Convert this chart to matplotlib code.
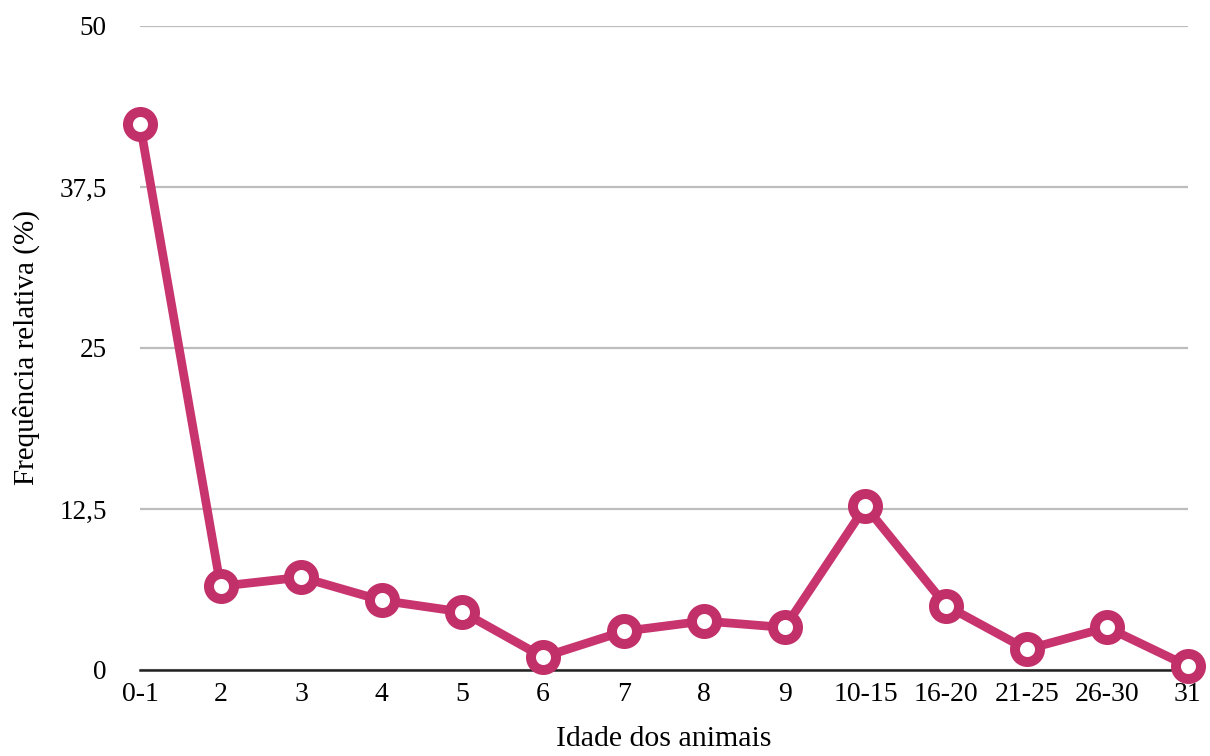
import matplotlib
matplotlib.use("Agg")
import matplotlib.pyplot as plt

# dados
idades = ['0-1', '2', '3', '4', '5', '6', '7', '8', '9', '10-15', '16-20', '21-25', '26-30', '31']
frequencia = [42.4, 6.5, 7.2, 5.4, 4.5, 1.0, 3.0, 3.8, 3.3, 12.7, 5.0, 1.6, 3.3, 0.3]
yticks = [0, 12.5, 25, 37.5, 50]
ytick_labels = ['0', '12,5', '25', '37,5', '50']

plt.rcParams['font.family'] = ['Liberation Serif', 'DejaVu Serif']

fig = plt.figure(figsize=(12.1, 7.56), dpi=100)
ax = fig.add_axes([0.1157, 0.1138, 0.866, 0.8519])

x = list(range(len(idades)))
ax.plot(x, frequencia, color='#C8346E', linewidth=6.3, marker='o', markersize=18,
        markerfacecolor='white', markeredgecolor='#C2306A', markeredgewidth=7.2,
        clip_on=False, zorder=5)

ax.set_xlim(0, len(idades) - 1)
ax.set_ylim(0, 50)
ax.set_yticks(yticks)
ax.set_yticklabels(ytick_labels)
ax.set_xticks(x)
ax.set_xticklabels(idades)
ax.tick_params(axis='both', length=0, labelsize=19.5)
ax.tick_params(axis='x', labelsize=20)
ax.tick_params(axis='y', pad=24)
ax.tick_params(axis='x', pad=9)

ax.grid(axis='y', color='#BDBDBD', linewidth=1.6)
ax.set_axisbelow(True)
for s in ['top', 'right', 'left']:
    ax.spines[s].set_visible(False)
ax.spines['bottom'].set_color('#222222')
ax.spines['bottom'].set_linewidth(1.8)
ax.spines['bottom'].set_zorder(3)

ax.set_xlabel('Idade dos animais', fontsize=21.5, labelpad=13)
ax.set_ylabel('Frequência relativa (%)', fontsize=21, labelpad=14)

fig.savefig('out.png', dpi=100)
